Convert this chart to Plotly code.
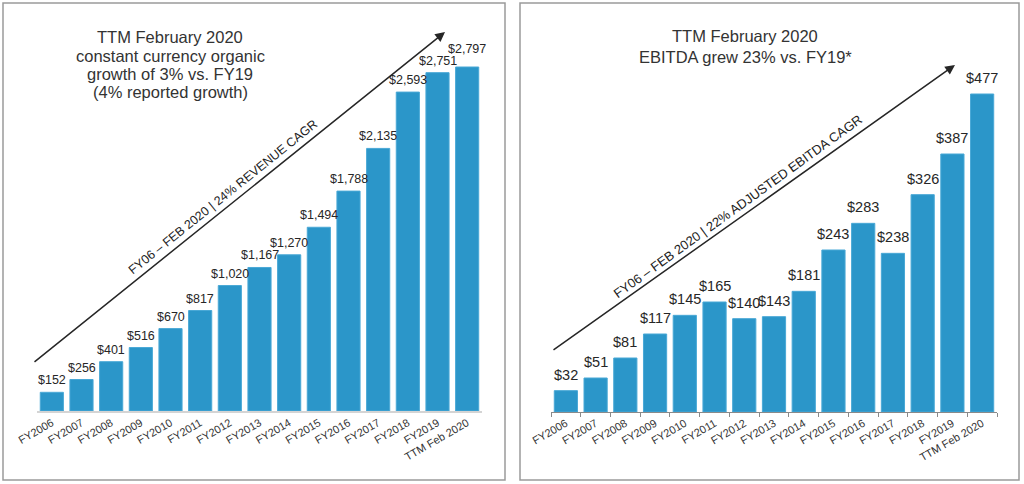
import plotly.graph_objects as go

W, H = 1024, 484

categories = ["FY2006", "FY2007", "FY2008", "FY2009", "FY2010", "FY2011", "FY2012",
              "FY2013", "FY2014", "FY2015", "FY2016", "FY2017", "FY2018", "FY2019",
              "TTM Feb 2020"]
revenue = [152, 256, 401, 516, 670, 817, 1020, 1167, 1270, 1494, 1788, 2135, 2593, 2751, 2797]
ebitda = [32, 51, 81, 117, 145, 165, 140, 143, 181, 243, 283, 238, 326, 387, 477]

left_title_lines = ["TTM February 2020", "constant currency organic",
                    "growth of 3% vs. FY19", "(4% reported growth)"]
right_title_lines = ["TTM February 2020", "EBITDA grew 23% vs. FY19*"]
left_arrow_text = "FY06 – FEB 2020 | 24% REVENUE CAGR"
right_arrow_text = "FY06 – FEB 2020 | 22% ADJUSTED EBITDA CAGR"

BAR = "#2B96C9"
BAR_EDGE = "#49A8D6"
TXT = "#262626"
FONT = "Liberation Sans, Arial, sans-serif"


def px(x):
    return x / W


def py(y):
    return 1 - y / H


fig = go.Figure()

fig.add_trace(go.Bar(
    x=categories, y=revenue, xaxis="x", yaxis="y",
    marker=dict(color=BAR, line=dict(color=BAR_EDGE, width=1)),
    showlegend=False, hoverinfo="skip",
))
fig.add_trace(go.Bar(
    x=categories, y=ebitda, xaxis="x2", yaxis="y2",
    marker=dict(color=BAR, line=dict(color=BAR_EDGE, width=1)),
    showlegend=False, hoverinfo="skip",
))

# value labels, placed through the axes' own scales
left_extra = {"TTM Feb 2020": 6}
for c, v in zip(categories, revenue):
    fig.add_annotation(xref="x", yref="y", x=c, y=v, text="${:,}".format(v),
                       showarrow=False, xanchor="center", yanchor="bottom",
                       yshift=3 + left_extra.get(c, 0),
                       font=dict(size=12.5, color=TXT, family=FONT))
for c, v in zip(categories, ebitda):
    fig.add_annotation(xref="x2", yref="y2", x=c, y=v, text="${:,}".format(v),
                       showarrow=False, xanchor="center", yanchor="bottom",
                       yshift=6,
                       font=dict(size=14.5, color=TXT, family=FONT))

L_base, R_base, top = 411, 412, 20
l_scale = 344 / 2797
r_scale = 318 / 477
x_range = [-0.5, len(categories) - 0.5]

fig.update_layout(
    width=W, height=H, autosize=False,
    margin=dict(l=0, r=0, t=0, b=0, pad=0, autoexpand=False),
    paper_bgcolor="white", plot_bgcolor="white",
    font=dict(family=FONT, color=TXT),
    bargap=0.22,
    xaxis=dict(domain=[px(37), px(482)], type="category", range=x_range,
               showline=True, linecolor="#d4d4d4", linewidth=1.5, ticks="",
               tickangle=-30, tickfont=dict(size=11, color="#333"), anchor="y",
               showgrid=False, automargin=False, fixedrange=True),
    yaxis=dict(domain=[py(L_base), py(top)], range=[0, (L_base - top) / l_scale],
               visible=False, showgrid=False, anchor="x", automargin=False,
               fixedrange=True),
    xaxis2=dict(domain=[px(551), px(997)], type="category", range=x_range,
                showline=True, linecolor="#8a8a8a", linewidth=1, ticks="outside",
                tickson="boundaries", ticklen=4, tickcolor="#8a8a8a", tickangle=-30,
                tickfont=dict(size=11, color="#333"), anchor="y2", showgrid=False,
                automargin=False, fixedrange=True),
    yaxis2=dict(domain=[py(R_base), py(top)], range=[0, (R_base - top) / r_scale],
                visible=False, showgrid=False, anchor="x2", automargin=False,
                fixedrange=True),
)

for x0, x1 in [(3, 505), (520, 1019)]:
    fig.add_shape(type="rect", xref="paper", yref="paper",
                  x0=px(x0), x1=px(x1), y0=py(480), y1=py(3),
                  line=dict(color="#9a9a9a", width=1.5), fillcolor="rgba(0,0,0,0)",
                  layer="below")

for line, yy in zip(left_title_lines, [37, 56, 74, 92]):
    fig.add_annotation(xref="paper", yref="paper", x=px(170), y=py(yy),
                       text=line, showarrow=False, xanchor="center", yanchor="middle",
                       font=dict(size=16.5, color="#333", family=FONT))
for line, yy in zip(right_title_lines, [36, 57]):
    fig.add_annotation(xref="paper", yref="paper", x=px(745), y=py(yy),
                       text=line, showarrow=False, xanchor="center", yanchor="middle",
                       font=dict(size=16.5, color="#333", family=FONT))

for (hx, hy), (tx, ty) in [((445, 32), (33, 363)), ((955, 65), (552, 351))]:
    fig.add_annotation(xref="paper", yref="paper", x=px(hx), y=py(hy),
                       ax=tx - hx, ay=ty - hy, axref="pixel", ayref="pixel",
                       text="", showarrow=True, arrowhead=2, arrowsize=1.3,
                       arrowwidth=1.5, arrowcolor="#262626")

fig.add_annotation(xref="paper", yref="paper", x=px(223), y=py(197),
                   xanchor="center", yanchor="middle",
                   text=left_arrow_text, showarrow=False, textangle=-38.8,
                   font=dict(size=12.5, color="#222", family=FONT))
fig.add_annotation(xref="paper", yref="paper", x=px(738), y=py(207),
                   xanchor="center", yanchor="middle",
                   text=right_arrow_text, showarrow=False, textangle=-35.8,
                   font=dict(size=13, color="#222", family=FONT))

fig.write_html("out.html",
               config={"displayModeBar": False, "staticPlot": True},
               post_script="document.body.style.margin='0';document.body.style.overflow='hidden';")
